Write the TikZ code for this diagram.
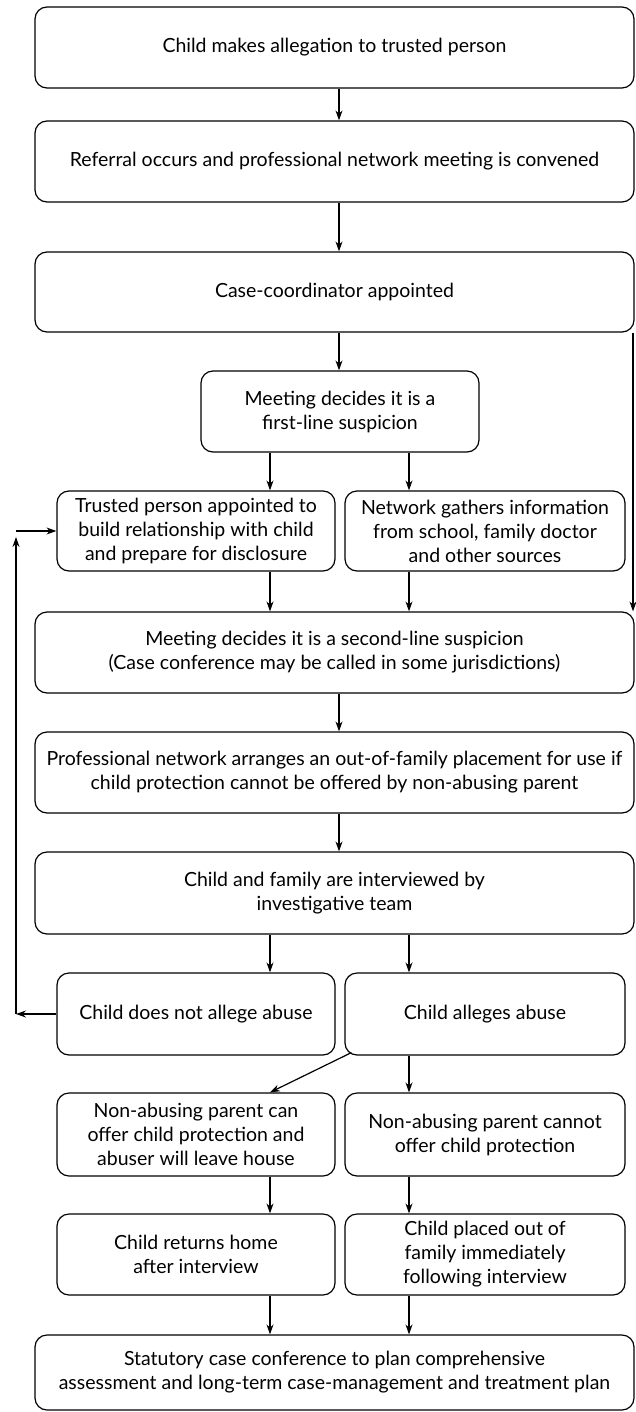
\documentclass[tikz,border=0pt]{standalone}
\usepackage{fontspec}
\setmainfont{Lato}
\usetikzlibrary{arrows.meta,calc}
\begin{document}
\begin{tikzpicture}[x=1pt,y=-1pt,
  box/.style={draw, line width=1.2pt, rounded corners=12pt, align=center, inner sep=0pt,
    font=\fontsize{19.5}{24}\selectfont},
  arr/.style={line width=1.2pt, -{Stealth[length=10pt,width=7pt]}},
  ln/.style={line width=1.2pt}]
\useasboundingbox (0,0) rectangle (636,1412);
\coordinate (cx) at (339,0);
\coordinate (lx) at (270,0);
\coordinate (rx) at (409,0);
\coordinate (ex) at (633,0);
\coordinate (fx) at (16,0);
\node[box, minimum width=599pt, minimum height=81pt] (b1) at (334.5,47.5) {Child makes allegation to trusted person};
\node[box, minimum width=599pt, minimum height=81pt] (b2) at (334.5,161.5) {Referral occurs and professional network meeting is convened};
\node[box, minimum width=599pt, minimum height=80pt] (b3) at (334.5,292) {Case-coordinator appointed};
\node[box, minimum width=278pt, minimum height=81pt] (first) at (340,411.5) {Meeting decides it is a\\first-line suspicion};
\node[box, minimum width=278pt, minimum height=80pt] (trusted) at (196,531) {Trusted person appointed to\\build relationship with child\\and prepare for disclosure};
\node[box, minimum width=280pt, minimum height=80pt] (network) at (485,531) {Network gathers information\\from school, family doctor\\and other sources};
\node[box, minimum width=599pt, minimum height=81pt] (second) at (334.5,652.5) {Meeting decides it is a second-line suspicion\\(Case conference may be called in some jurisdictions)};
\node[box, minimum width=599pt, minimum height=81pt] (place) at (334.5,772.5) {Professional network arranges an out-of-family placement for use if\\child protection cannot be offered by non-abusing parent};
\node[box, minimum width=599pt, minimum height=82pt] (interview) at (334.5,893) {Child and family are interviewed by\\investigative team};
\node[box, minimum width=278pt, minimum height=82pt] (nallege) at (196,1014) {Child does not allege abuse};
\node[box, minimum width=280pt, minimum height=82pt] (allege) at (485,1014) {Child alleges abuse};
\node[box, minimum width=278pt, minimum height=83pt] (can) at (196,1134.5) {Non-abusing parent can\\offer child protection and\\abuser will leave house};
\node[box, minimum width=280pt, minimum height=83pt] (cannot) at (485,1134.5) {Non-abusing parent cannot\\offer child protection};
\node[box, minimum width=278pt, minimum height=81pt] (home) at (196,1254.5) {Child returns home\\after interview};
\node[box, minimum width=280pt, minimum height=81pt] (out) at (485,1254.5) {Child placed out of\\family immediately\\following interview};
\node[box, minimum width=599pt, minimum height=75pt] (stat) at (334.5,1372.5) {Statutory case conference to plan comprehensive\\assessment and long-term case-management and treatment plan};
% main arrows
\draw[arr] (b1.south -| cx) -- (b2.north -| cx);
\draw[arr] (b2.south -| cx) -- (b3.north -| cx);
\draw[arr] (b3.south -| cx) -- (first.north -| cx);
\draw[arr] (first.south -| lx) -- (trusted.north -| lx);
\draw[arr] (first.south -| rx) -- (network.north -| rx);
\draw[arr] (trusted.south -| lx) -- (second.north -| lx);
\draw[arr] (network.south -| rx) -- (second.north -| rx);
\draw[arr] (b3.south -| ex) -- (second.north -| ex);
\draw[arr] (second.south -| cx) -- (place.north -| cx);
\draw[arr] (place.south -| cx) -- (interview.north -| cx);
\draw[arr] (interview.south -| lx) -- (nallege.north -| lx);
\draw[arr] (interview.south -| rx) -- (allege.north -| rx);
\draw[arr] ($(allege.south west)+(7,-3)$) -- (can.north -| lx);
\draw[arr] (allege.south -| rx) -- (cannot.north -| rx);
\draw[arr] (can.south -| lx) -- (home.north -| lx);
\draw[arr] (cannot.south -| rx) -- (out.north -| rx);
\draw[arr] (home.south -| lx) -- (stat.north -| lx);
\draw[arr] (out.south -| rx) -- (stat.north -| rx);
% feedback loop
\coordinate (fb) at (nallege.west -| fx);
\draw[arr] (nallege.west) -- (fb);
\draw[arr] (fb) -- ($(trusted.west -| fx)+(0,6)$);
\draw[arr] (trusted.west -| fx) -- (trusted.west);
\end{tikzpicture}
\end{document}
